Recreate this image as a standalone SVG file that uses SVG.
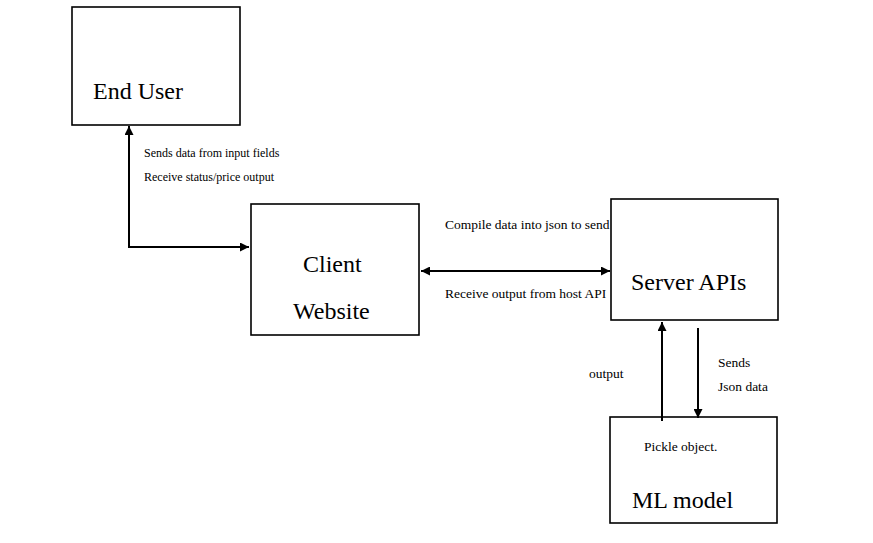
<svg xmlns="http://www.w3.org/2000/svg" width="873" height="543" viewBox="0 0 873 543">
<style>
.box{fill:#fff;stroke:#000;stroke-width:1.6}
.big{font-family:'Liberation Serif','Times New Roman',serif;font-size:24px;fill:#000}
.sm{font-family:'Liberation Serif','Times New Roman',serif;font-size:12px;fill:#000}
.md{font-family:'Liberation Serif','Times New Roman',serif;font-size:13.5px;fill:#000}
.con{fill:none;stroke:#000;stroke-width:2}
</style>
<defs>
<marker id="ah" viewBox="0 0 10 10" refX="10" refY="5" markerWidth="10" markerHeight="9" markerUnits="userSpaceOnUse" orient="auto-start-reverse">
<path d="M0,0 L10,5 L0,10 z" fill="#000"/>
</marker>
</defs>
<rect width="873" height="543" fill="#fff"/>
<g id="end-user">
<rect class="box" x="72" y="7" width="168" height="118"/>
<text class="big" x="93" y="99">End User</text>
</g>
<g id="client-website">
<rect class="box" x="251" y="204" width="168" height="131"/>
<text class="big" x="303" y="272">Client</text>
<text class="big" x="293" y="319">Website</text>
</g>
<g id="server-apis">
<rect class="box" x="611" y="199" width="167" height="121"/>
<text class="big" x="631" y="290">Server APIs</text>
</g>
<g id="ml-model">
<rect class="box" x="610" y="417" width="167" height="106"/>
<text class="md" x="644" y="451">Pickle object.</text>
<text class="big" x="632" y="508">ML model</text>
</g>
<g id="connectors">
<path class="con" d="M129,126 L129,247 L249,247" marker-start="url(#ah)" marker-end="url(#ah)"/>
<path class="con" d="M421,271 L610,271" marker-start="url(#ah)" marker-end="url(#ah)"/>
<path class="con" d="M662,421 L662,322" marker-end="url(#ah)"/>
<path class="con" d="M698,328 L698,418" marker-end="url(#ah)"/>
<text class="sm" x="144" y="157">Sends data from input fields</text>
<text class="sm" x="144" y="181">Receive status/price output</text>
<text class="md" x="445" y="229">Compile data into json to send</text>
<text class="md" x="445" y="298">Receive output from host API</text>
<text class="md" x="589" y="378">output</text>
<text class="md" x="718" y="367">Sends</text>
<text class="md" x="718" y="391">Json data</text>
</g>
</svg>
